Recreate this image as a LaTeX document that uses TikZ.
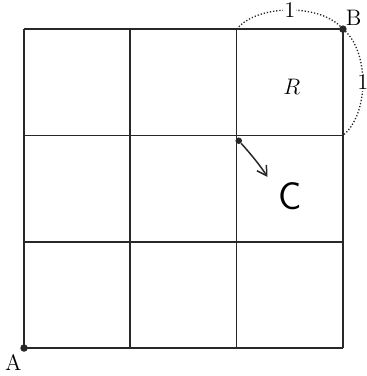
\documentclass[tikz,border=0pt]{standalone}
\usetikzlibrary{arrows.meta, positioning}
\definecolor{inkcolor}{RGB}{40, 40, 40}

\begin{document}
\begin{tikzpicture}[
    x=2cm, y=2cm,
    gridline/.style={
        draw=inkcolor,
        line width=0.9pt
    },
    pointdot/.style={
        circle,
        fill=inkcolor,
        inner sep=0pt,
        minimum size=4pt
    },
    measure/.style={
        draw=inkcolor,
        densely dotted,
        line width=0.7pt
    },
    ptlabel/.style={
        font=\large,
        inner sep=1pt
    },
    lenlabel/.style={
        font=\large,
        fill=white,
        inner sep=0.6pt
    },
    handarrow/.style={
        -{Straight Barb[length=5pt, width=6pt]},
        draw=inkcolor,
        line width=0.8pt
    }
]
\useasboundingbox (-0.226, -0.263) rectangle (3.217, 3.274);

% Grid
\coordinate (A) at (0, 0);
\coordinate (B) at (3, 3);
\draw[gridline, step=2cm] (A) grid (B);

% Corner points
\node[pointdot] (dotA) at (A) {};
\node[pointdot] (dotB) at (B) {};
\node[pointdot, minimum size=3.5pt] (dotC) at (2.02, 1.95) {};
\node[ptlabel] (labA) at (-0.10, -0.14) {A};
\node[ptlabel] (labB) at (3.10, 3.11) {B};

% Region R
\node[font=\large\itshape] (labR) at (2.52, 2.46) {$R$};

% Unit lengths
\coordinate (topleft) at (2, 3);
\coordinate (rightlow) at (3, 2);
\draw[measure] (topleft) .. controls (2.2, 3.24) and (2.8, 3.24) .. (B)
    node[lenlabel, pos=0.5] (lentop) {1};
\draw[measure] (B) .. controls (3.25, 2.8) and (3.25, 2.2) .. (rightlow)
    node[lenlabel, pos=0.5] (lenright) {1};

% Point C
\node[font=\sffamily\huge] (labC) at (2.50, 1.43) {C};
\coordinate (arrowend) at (2.29, 1.61);
\draw[handarrow] (dotC) .. controls (2.12, 1.84) and (2.22, 1.72) .. (arrowend);

\end{tikzpicture}
\end{document}
